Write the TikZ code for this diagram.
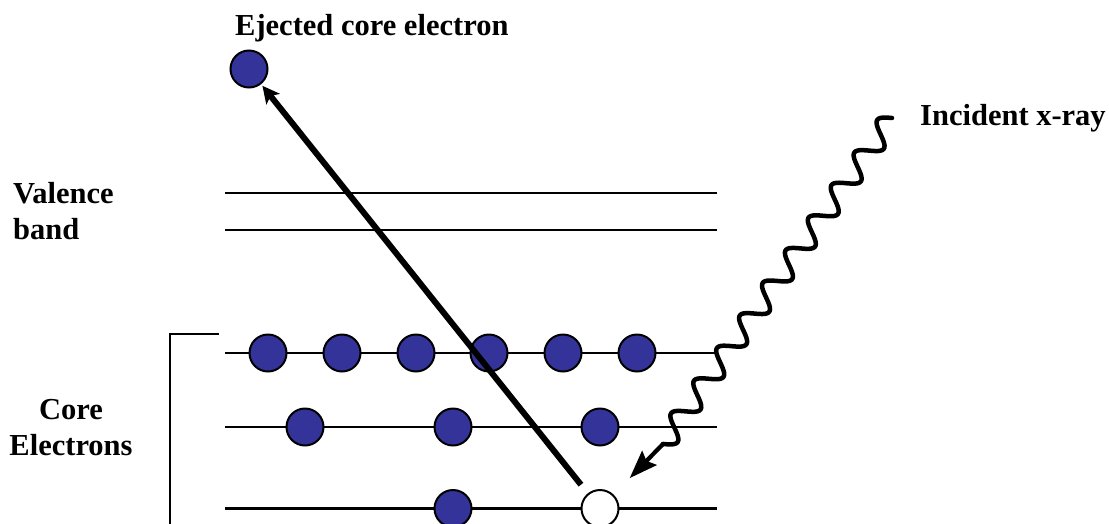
\documentclass[tikz,border=0pt]{standalone}
\usepackage{fontspec}
\setmainfont{Liberation Serif}
\usetikzlibrary{arrows.meta}
\definecolor{eblue}{HTML}{333399}
\begin{document}
\begin{tikzpicture}[x=1pt,y=-1pt,
  level/.style={line width=2.2pt},
  electron/.style={circle,draw=black,fill=eblue,line width=2pt,minimum size=37pt,inner sep=0pt},
  hole/.style={electron,fill=white},
  lbl/.style={font=\fontsize{30.5}{36}\selectfont\bfseries,inner sep=0pt},
  wave/.style={line width=4.5pt,line cap=round,line join=round},
  bigarrow/.style={line width=6pt,-{Stealth[length=17pt,width=17pt,inset=4pt]}},
  wavearrow/.style={line width=4.2pt,-{Stealth[length=28pt,width=20pt,inset=4pt]}}]
\useasboundingbox (0,0) rectangle (1109,523);
% energy levels
\draw[level] (225,193) -- (717,193);
\draw[level] (225,230) -- (717,230);
\draw[level] (225,353) -- (717,353);
\draw[level] (225,427) -- (717,427);
\draw[level] (225,508.5) -- (717,508.5);
% bracket
\draw[level] (219,334) -- (170,334) -- (170,530);
% labels
\node[lbl,anchor=base west] (ej) at (235,35) {Ejected core electron};
\node[lbl,anchor=base west] (xr) at (920,125) {Incident x-ray};
\node[lbl,anchor=west,align=left] (vb) at (13,211) {Valence\\band};
\node[lbl,align=center] (ce) at (71,428) {Core\\Electrons};
% electrons
\node[electron] (e0) at (249,69) {};
\node[electron] (a1) at (268,353) {};
\node[electron] (a2) at (342,353) {};
\node[electron] (a3) at (416,353) {};
\node[electron] (a4) at (489,353) {};
\node[electron] (a5) at (563,353) {};
\node[electron] (a6) at (637,353) {};
\node[electron] (b1) at (305,427) {};
\node[electron] (b2) at (453,427) {};
\node[electron] (b3) at (600,427) {};
\node[electron] (c1) at (453,508.5) {};
\node[hole] (h) at (600,508.5) {};
% ejection arrow
\draw[bigarrow,shorten <=11pt,shorten >=2pt] (h) -- (e0);
% x-ray
\coordinate (ws) at (892,118);
\coordinate (we) at (663,444);
\begin{scope}[x=1pt,y=1pt,shift={(ws)},rotate=234.9]
  \draw[wave] plot[smooth,domain=0:398.4,samples=240] (\x,{-11*sin(\x*9.036)});
\end{scope}
\draw[wavearrow,shorten >=23pt] (we) -- (h);
\end{tikzpicture}
\end{document}
